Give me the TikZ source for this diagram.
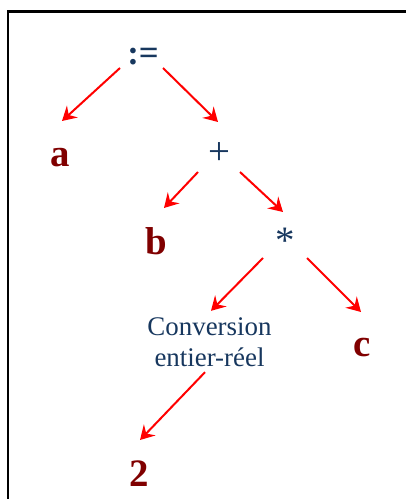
\documentclass[tikz,border=0pt]{standalone}
\usepackage{fontspec}
\setmainfont{Liberation Serif}
\usetikzlibrary{arrows.meta,calc}
\definecolor{opblue}{RGB}{23,55,94}
\definecolor{leafred}{RGB}{128,0,0}
\definecolor{arrred}{RGB}{255,0,0}

\begin{document}
\begin{tikzpicture}[x=1bp,y=-1bp,
  arr/.style={draw=arrred,line width=2bp,-{Stealth[length=14bp,width=16bp,inset=5bp]}},
  op/.style={anchor=base,inner sep=0pt,text=opblue,font=\fontsize{39}{41}\selectfont},
  leaf/.style={anchor=base,inner sep=0pt,text=leafred,font=\fontsize{39}{41}\selectfont\bfseries}]
\useasboundingbox (0,0) rectangle (406,499);

% frame (only the top and left sides show)
\draw [line width=2.5bp] (8,499) -- (8,11.3) -- (406,11.3);

% Text Node
\node [op,font=\fontsize{35}{37}\selectfont\bfseries] (assign) at (143,65) {:=};
% Text Node
\node [leaf] (a) at (60,167) {a};
% Text Node
\node [op] (plus) at (219,165) {+};
% Text Node
\node [leaf] (b) at (156,254) {b};
% Text Node
\node [op] (mul) at (285,253) {*};
% Text Node
\node [inner sep=0pt,text=opblue,align=center,font=\fontsize{27}{31}\selectfont] (conv) at (209.5,342.5) {Conversion\\entier-réel};
% Text Node
\node [leaf] (c) at (362,356) {c};
% Text Node
\node [leaf] (two) at (139,486) {2};

% arrows
\draw [arr] ($(assign.base)+(-23,3)$) -- ($(a.base)+(2,-46)$);
\draw [arr] ($(assign.base)+(20,3)$) -- ($(plus.base)+(-1,-43)$);
\draw [arr] ($(plus.base)+(-21,7)$) -- ($(b.base)+(8,-46)$);
\draw [arr] ($(plus.base)+(21,7)$) -- ($(mul.base)+(-2,-41)$);
\draw [arr] ($(mul.base)+(-22,5)$) -- ($(conv.north)+(1.5,-7)$);
\draw [arr] ($(mul.base)+(22,5)$) -- ($(c.base)+(-1,-44)$);
\draw [arr] ($(conv.south)+(-4.5,5)$) -- ($(two.base)+(1,-46)$);
\end{tikzpicture}
\end{document}
